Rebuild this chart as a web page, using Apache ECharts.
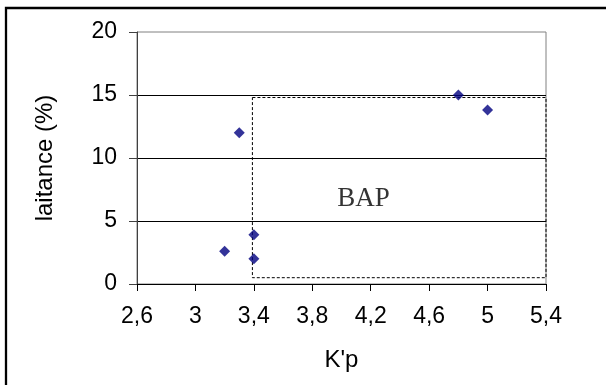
<!DOCTYPE html>
<html>
<head>
<meta charset="utf-8">
<script src="https://cdn.jsdelivr.net/npm/echarts@6/dist/echarts.min.js"></script>
<style>
  html, body { margin: 0; padding: 0; background: #fff; }
  #chart { width: 606px; height: 385px; }
</style>
</head>
<body>
<div id="chart"></div>
<script>
// K'p vs laitance
const kp = [3.2, 3.3, 3.4, 3.4, 4.8, 5.0]
const laitance = [2.6, 12, 3.9, 2.0, 15, 13.8]

// BAP zone (dashed box) and its label
const bapX = [3.39, 5.4]
const bapY = [0.5, 14.8]
const bapLabelPos = [4.15, 6.75]
const bapText = 'BAP'

const xTicks = { min: 2.6, max: 5.4, step: 0.4 }
const yTicks = { min: 0, max: 20, step: 5 }

const chart = echarts.init(document.getElementById('chart'))

const fmtComma = v => String(Math.round(v * 10) / 10).replace('.', ',')

chart.setOption({
    animation: false,
    textStyle: { fontFamily: 'Liberation Sans, Arial, sans-serif' },
    graphic: [{
        type: 'rect',
        shape: { x: 6, y: 8, width: 800, height: 600 },
        style: { fill: 'none', stroke: '#000', lineWidth: 2.3 },
        silent: true,
    }],
    grid: {
        left: 137, right: 60, top: 32, bottom: 101,
        show: true, borderColor: '#808080', borderWidth: 1,
    },
    xAxis: {
        type: 'value',
        min: xTicks.min, max: xTicks.max, interval: xTicks.step,
        name: "K'p",
        nameLocation: 'middle',
        nameGap: 64,
        nameTextStyle: { fontSize: 24, color: '#000' },
        axisLine: { lineStyle: { color: '#000', width: 1 } },
        axisTick: { show: true, length: 7, lineStyle: { color: '#000' } },
        axisLabel: { fontSize: 23, color: '#000', margin: 21, formatter: fmtComma },
        splitLine: { show: false },
    },
    yAxis: {
        type: 'value',
        min: yTicks.min, max: yTicks.max, interval: yTicks.step,
        name: 'laitance (%)',
        nameLocation: 'middle',
        nameGap: 80,
        nameTextStyle: { fontSize: 24, color: '#000' },
        axisLine: { show: true, lineStyle: { color: '#404040', width: 1 } },
        axisTick: { show: true, length: 8, lineStyle: { color: '#404040' } },
        axisLabel: { fontSize: 23, color: '#000', margin: 20 },
        splitLine: { show: true, showMaxLine: false, lineStyle: { color: '#000', width: 1 } },
    },
    series: [{
        type: 'scatter',
        symbol: 'diamond',
        symbolSize: 11,
        itemStyle: { color: '#000080' },
        data: kp.map((x, i) => [x, laitance[i]]),
        z: 5,
        markArea: {
            silent: true,
            itemStyle: {
                color: 'transparent',
                borderColor: '#000',
                borderWidth: 1,
                borderType: [3, 2],
            },
            data: [[
                { coord: [bapX[0], bapY[1]] },
                { coord: [bapX[1], bapY[0]] },
            ]],
        },
    }, {
        type: 'scatter',
        symbolSize: 1,
        itemStyle: { color: 'transparent' },
        data: [bapLabelPos],
        label: {
            show: true,
            position: 'inside',
            formatter: bapText,
            fontFamily: 'Liberation Serif, Times New Roman, serif',
            fontSize: 27,
            color: '#000',
        },
        silent: true,
    }],
})
</script>
</body>
</html>
